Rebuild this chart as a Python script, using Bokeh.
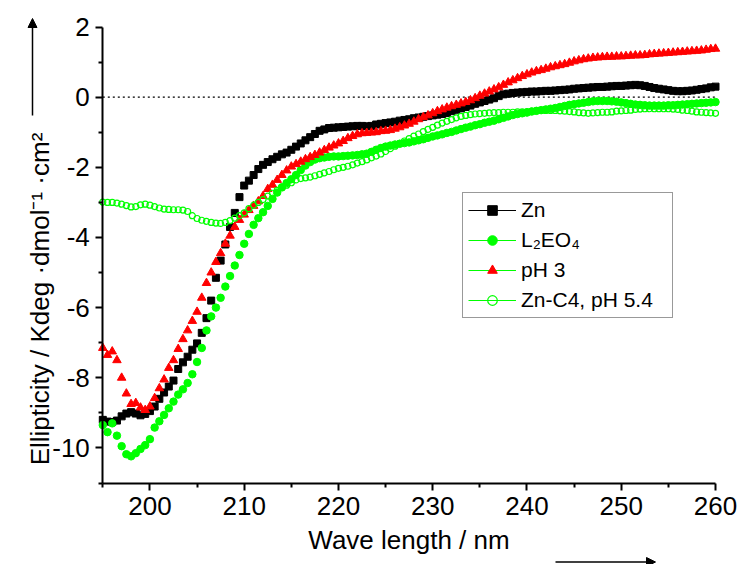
import math
import numpy as np
from bokeh.plotting import figure
from bokeh.models import (Legend, LegendItem, Label, Arrow, NormalHead,
                          FixedTicker, Range1d, CustomJSTickFormatter)
from bokeh.embed import file_html
from bokeh.resources import INLINE

# ---------------- data ----------------
wavelength = np.arange(195.0, 260.01, 0.5)

zn = [-9.20, -9.25, -9.26, -9.22, -9.10, -9.02, -8.98, -9.02, -9.07, -9.03,
      -8.95, -8.82, -8.60, -8.42, -8.25, -8.08, -7.75, -7.56, -7.40, -7.20,
      -7.02, -6.72, -6.30, -5.80, -5.15, -4.66, -4.20, -3.70, -3.30, -2.85,
      -2.52, -2.38, -2.22, -2.05, -1.93, -1.85, -1.77, -1.70, -1.63, -1.58,
      -1.50, -1.41, -1.32, -1.23, -1.14, -1.05, -0.96, -0.92, -0.88, -0.87,
      -0.86, -0.85, -0.84, -0.83, -0.82, -0.82, -0.83, -0.82, -0.78, -0.76,
      -0.74, -0.72, -0.70, -0.67, -0.65, -0.63, -0.60, -0.58, -0.56, -0.54,
      -0.52, -0.50, -0.48, -0.45, -0.40, -0.36, -0.32, -0.28, -0.24, -0.19,
      -0.15, -0.11, -0.07, -0.03, 0.03, 0.08, 0.10, 0.12, 0.13, 0.14,
      0.15, 0.16, 0.16, 0.17, 0.18, 0.18, 0.19, 0.20, 0.21, 0.22,
      0.24, 0.25, 0.26, 0.27, 0.28, 0.29, 0.29, 0.30, 0.31, 0.32,
      0.32, 0.33, 0.34, 0.35, 0.34, 0.32, 0.29, 0.26, 0.24, 0.22,
      0.20, 0.18, 0.17, 0.17, 0.18, 0.19, 0.21, 0.23, 0.25, 0.28,
      0.30]

l2eo4 = [-9.35, -9.55, -9.30, -9.65, -9.95, -10.18, -10.24, -10.15, -10.03, -9.92,
         -9.75, -9.42, -9.24, -9.06, -8.87, -8.68, -8.48, -8.33, -8.15, -7.90,
         -7.55, -7.15, -6.65, -6.25, -6.00, -5.72, -5.40, -5.10, -4.80, -4.50,
         -4.18, -3.90, -3.64, -3.45, -3.28, -3.10, -2.90, -2.72, -2.57, -2.45,
         -2.34, -2.22, -2.08, -1.95, -1.85, -1.78, -1.74, -1.72, -1.70, -1.69,
         -1.69, -1.68, -1.67, -1.66, -1.65, -1.63, -1.61, -1.56, -1.50, -1.45,
         -1.41, -1.38, -1.35, -1.33, -1.31, -1.29, -1.26, -1.23, -1.20, -1.16,
         -1.12, -1.09, -1.06, -1.02, -0.99, -0.95, -0.91, -0.87, -0.84, -0.80,
         -0.77, -0.73, -0.70, -0.67, -0.63, -0.59, -0.55, -0.51, -0.48, -0.46,
         -0.44, -0.41, -0.39, -0.37, -0.35, -0.33, -0.31, -0.28, -0.25, -0.22,
         -0.20, -0.18, -0.16, -0.14, -0.12, -0.11, -0.11, -0.11, -0.12, -0.13,
         -0.15, -0.17, -0.19, -0.21, -0.22, -0.23, -0.24, -0.24, -0.24, -0.24,
         -0.23, -0.23, -0.22, -0.21, -0.20, -0.19, -0.18, -0.17, -0.16, -0.15,
         -0.14]

ph3 = [-7.15, -7.35, -7.25, -7.50, -8.00, -8.45, -8.75, -8.72, -8.85, -8.92,
       -8.82, -8.58, -8.30, -8.05, -7.72, -7.50, -7.18, -6.90, -6.65, -6.38,
       -6.12, -5.72, -5.30, -5.00, -4.70, -4.45, -4.18, -3.95, -3.70, -3.50,
       -3.35, -3.22, -3.10, -2.97, -2.82, -2.62, -2.50, -2.36, -2.22, -2.09,
       -1.98, -1.91, -1.84, -1.77, -1.71, -1.65, -1.58, -1.51, -1.44, -1.38,
       -1.32, -1.25, -1.17, -1.11, -1.06, -1.03, -1.02, -1.01, -1.00, -0.97,
       -0.96, -0.94, -0.90, -0.86, -0.81, -0.76, -0.70, -0.63, -0.57, -0.52,
       -0.46, -0.40, -0.35, -0.30, -0.26, -0.22, -0.18, -0.14, -0.09, -0.03,
       0.04, 0.10, 0.16, 0.22, 0.28, 0.35, 0.42, 0.48, 0.54, 0.60,
       0.65, 0.70, 0.74, 0.77, 0.81, 0.85, 0.88, 0.91, 0.94, 0.98,
       1.02, 1.05, 1.08, 1.10, 1.12, 1.13, 1.14, 1.15, 1.15, 1.16,
       1.16, 1.17, 1.18, 1.19, 1.19, 1.20, 1.22, 1.23, 1.24, 1.25,
       1.26, 1.27, 1.28, 1.29, 1.30, 1.31, 1.32, 1.33, 1.35, 1.37,
       1.38]

znc4 = [-2.99, -3.00, -3.00, -3.02, -3.05, -3.09, -3.13, -3.12, -3.07, -3.05,
        -3.08, -3.12, -3.16, -3.19, -3.20, -3.21, -3.21, -3.22, -3.26, -3.38,
        -3.46, -3.51, -3.54, -3.57, -3.59, -3.60, -3.57, -3.52, -3.45, -3.38,
        -3.30, -3.18, -3.08, -3.00, -2.92, -2.82, -2.74, -2.66, -2.58, -2.51,
        -2.44, -2.36, -2.32, -2.30, -2.28, -2.24, -2.20, -2.16, -2.12, -2.07,
        -2.03, -2.00, -1.97, -1.93, -1.88, -1.84, -1.79, -1.73, -1.68, -1.62,
        -1.55, -1.47, -1.40, -1.32, -1.25, -1.18, -1.11, -1.05, -0.98, -0.92,
        -0.86, -0.80, -0.74, -0.69, -0.64, -0.59, -0.55, -0.52, -0.50, -0.48,
        -0.47, -0.46, -0.45, -0.44, -0.44, -0.43, -0.43, -0.43, -0.42, -0.42,
        -0.41, -0.40, -0.39, -0.38, -0.38, -0.38, -0.38, -0.39, -0.40, -0.41,
        -0.42, -0.44, -0.45, -0.46, -0.45, -0.44, -0.43, -0.43, -0.42, -0.40,
        -0.39, -0.38, -0.37, -0.35, -0.34, -0.33, -0.33, -0.33, -0.33, -0.33,
        -0.33, -0.34, -0.35, -0.37, -0.38, -0.40, -0.42, -0.43, -0.44, -0.45,
        -0.46]

x_axis_min, x_axis_max = 195, 260
y_axis_min, y_axis_max = -11, 2
x_major_ticks = [200, 210, 220, 230, 240, 250, 260]
x_minor_ticks = [195, 205, 215, 225, 235, 245, 255]
y_major_ticks = [-10, -8, -6, -4, -2, 0, 2]
y_minor_ticks = [-11, -9, -7, -5, -3, -1, 1]

series_labels = ["Zn", "L\u2082EO\u2084", "pH 3", "Zn-C4, pH 5.4"]
x_title = "Wave length / nm"
y_title = "Ellipticity / Kdeg \u00b7dmol\u207b\u00b9 \u00b7cm\u00b2"

for s in (zn, l2eo4, ph3, znc4):
    assert len(s) == len(wavelength), len(s)

FONT = "Liberation Sans"
GREEN = "#00FF00"

# ---------------- layout (pixels) ----------------
W, H = 740, 564
AX_LEFT, AX_RIGHT, AX_TOP, AX_BOTTOM = 102.3, 715.0, 26.5, 482.5
sx = (AX_RIGHT - AX_LEFT) / (x_axis_max - x_axis_min)
sy = (AX_BOTTOM - AX_TOP) / (y_axis_max - y_axis_min)
x_range = Range1d(x_axis_min - AX_LEFT / sx, x_axis_max + (W - AX_RIGHT) / sx)
y_range = Range1d(y_axis_min - (H - AX_BOTTOM) / sy, y_axis_max + AX_TOP / sy)

p = figure(width=W, height=H, x_range=x_range, y_range=y_range,
           output_backend="svg", toolbar_location=None,
           min_border_left=0, min_border_right=0, min_border_top=0, min_border_bottom=0)
p.xgrid.visible = False
p.ygrid.visible = False
p.outline_line_color = None
p.background_fill_color = "white"
p.border_fill_color = "white"

for ax, maj, mnr in ((p.xaxis, x_major_ticks, x_minor_ticks), (p.yaxis, y_major_ticks, y_minor_ticks)):
    ax.ticker = FixedTicker(ticks=maj, minor_ticks=mnr)
    ax.formatter = CustomJSTickFormatter(code="return String(tick);")
    ax.axis_line_width = 2
    ax.axis_line_color = "black"
    ax.major_tick_line_width = 2
    ax.minor_tick_line_width = 2
    ax.major_tick_out = 7
    ax.major_tick_in = 0
    ax.minor_tick_out = 4
    ax.minor_tick_in = 0
    ax.major_label_text_font = FONT
    ax.major_label_text_font_size = "26px"
    ax.major_label_text_color = "black"

p.xaxis.fixed_location = y_axis_min
p.xaxis.bounds = (x_axis_min, x_axis_max)
p.yaxis.fixed_location = x_axis_min
p.yaxis.bounds = (y_axis_min, y_axis_max)

p.xaxis.major_label_standoff = 7
p.yaxis.major_label_standoff = 6
p.xaxis.axis_label = x_title
p.xaxis.axis_label_text_font = FONT
p.xaxis.axis_label_text_font_size = "26px"
p.xaxis.axis_label_text_font_style = "normal"
p.xaxis.axis_label_text_color = "black"
p.xaxis.axis_label_standoff = 6

# zero reference line (dotted), across the axis extent
p.segment(x0=[x_axis_min], y0=[0], x1=[x_axis_max], y1=[0],
          line_color="black", line_width=1.2, line_dash="2 3")

# legend-only connecting lines (hidden in plot)
l_zn = p.line(wavelength, zn, line_color="black", line_width=1, visible=False)
l_l2 = p.line(wavelength, l2eo4, line_color=GREEN, line_width=1, visible=False)
l_ph = p.line(wavelength, ph3, line_color=GREEN, line_width=1, visible=False)
l_c4 = p.line(wavelength, znc4, line_color=GREEN, line_width=1, visible=False)

s_zn = p.scatter(wavelength, zn, marker="square", size=7, fill_color="black", line_color="black")
s_l2 = p.scatter(wavelength, l2eo4, marker="circle", size=7.5, fill_color=GREEN, line_color=GREEN)
s_ph = p.scatter(wavelength, ph3, marker="triangle", size=8.5, fill_color="red", line_color="red")
s_c4 = p.scatter(wavelength, znc4, marker="circle", size=6, fill_color=None,
                 line_color=GREEN, line_width=1.2)

legend = Legend(items=[
    LegendItem(label=series_labels[0], renderers=[l_zn, s_zn]),
    LegendItem(label=series_labels[1], renderers=[l_l2, s_l2]),
    LegendItem(label=series_labels[2], renderers=[l_ph, s_ph]),
    LegendItem(label=series_labels[3], renderers=[l_c4, s_c4]),
], location=(462, H - 318))
legend.label_text_font = FONT
legend.label_text_font_size = "21px"
legend.label_text_color = "black"
legend.glyph_width = 48
legend.glyph_height = 24
legend.label_height = 24
legend.label_width = 146
legend.label_standoff = 5
legend.spacing = 6
legend.padding = 5
legend.margin = 0
legend.border_line_color = "#333333"
legend.border_line_width = 1.5
legend.background_fill_color = "white"
legend.background_fill_alpha = 1
p.add_layout(legend)

# y-axis title with its arrow (screen units: from bottom-left of canvas)
p.add_layout(Label(x=39.5, y=H - 298.5, x_units="screen", y_units="screen", text=y_title,
                   angle=math.pi / 2, text_align="center", text_baseline="alphabetic",
                   text_font=FONT, text_font_size="26px", text_color="black"))
p.add_layout(Arrow(x_start=32, y_start=H - 115, x_end=32, y_end=H - 18,
                   start_units="screen", end_units="screen",
                   line_color="black", line_width=1.5,
                   end=NormalHead(size=9, fill_color="black", line_color="black", line_width=1)))
# x-axis arrow
p.add_layout(Arrow(x_start=555, y_start=H - 561.5, x_end=655, y_end=H - 561.5,
                   start_units="screen", end_units="screen",
                   line_color="black", line_width=1.5,
                   end=NormalHead(size=9, fill_color="black", line_color="black", line_width=1)))

open("out.html", "w").write(file_html(p, INLINE))
